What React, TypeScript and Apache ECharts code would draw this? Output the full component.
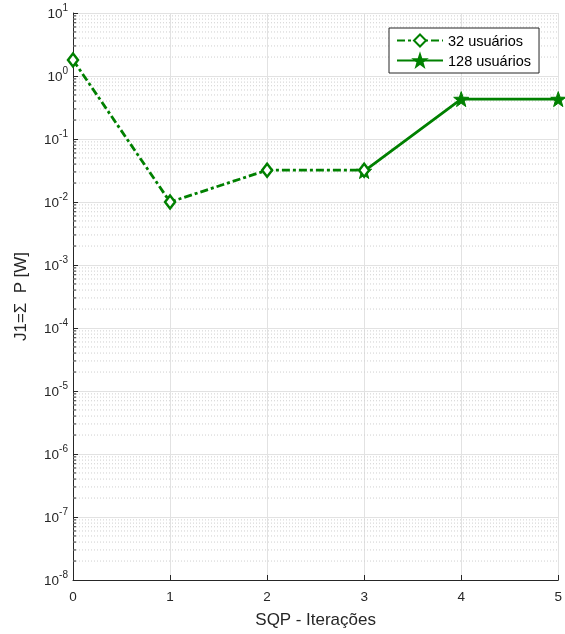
import React, { useEffect, useRef } from "react";
import * as echarts from "echarts";

const iterations = [0, 1, 2, 3, 4, 5];
const users32: (number | null)[] = [1.8, 0.01, 0.032, 0.032, null, null];
const users128: (number | null)[] = [null, null, null, 0.031, 0.43, 0.43];
const seriesNames = ["32 usuários", "128 usuários"];
const yMinExp = -8;
const yMaxExp = 1;
const minorMultipliers = [2, 3, 4, 5, 6, 7, 8, 9];

const FONT = "'Liberation Sans', Arial, sans-serif";
const GREEN = "#008000";
const AXIS = "#262626";

function starPath(): string {
  const pts: string[] = [];
  for (let i = 0; i < 10; i++) {
    const r = i % 2 === 0 ? 10 : 4;
    const a = -Math.PI / 2 + (i * Math.PI) / 5;
    pts.push(`${(10 + r * Math.cos(a)).toFixed(3)} ${(10 + r * Math.sin(a)).toFixed(3)}`);
  }
  return "path://M" + pts.join(" L") + " Z";
}

export default function App() {
  const ref = useRef<HTMLDivElement>(null);
  useEffect(() => {
    if (!ref.current) return;
    const chart = echarts.init(ref.current, null, { renderer: "svg" });
    const minorVals: number[][] = [];
    for (let e = yMinExp; e < yMaxExp; e++) {
      for (const m of minorMultipliers) minorVals.push([0, m * Math.pow(10, e)]);
    }
    chart.setOption({
      animation: false,
      textStyle: { fontFamily: FONT },
      grid: { left: 73, right: 6, top: 13, bottom: 54 },
      legend: {
        left: 389,
        top: 28,
        orient: "vertical",
        backgroundColor: "#fff",
        borderColor: AXIS,
        borderWidth: 1,
        borderRadius: 0,
        padding: [5, 8, 5, 7],
        itemWidth: 46,
        itemHeight: 15,
        itemGap: 5,
        textStyle: { fontSize: 14.5, color: "#000", fontFamily: FONT },
        data: seriesNames,
      },
      xAxis: {
        type: "value",
        min: 0,
        max: 5,
        interval: 1,
        name: "SQP - Iterações",
        nameLocation: "middle",
        nameGap: 31,
        nameTextStyle: { fontSize: 17, color: AXIS, fontFamily: FONT },
        axisLine: { lineStyle: { color: AXIS, width: 1 } },
        axisTick: { inside: true, length: 5, lineStyle: { color: AXIS } },
        axisLabel: { fontSize: 13.5, color: AXIS, margin: 9, fontFamily: FONT },
        splitLine: { show: true, lineStyle: { color: "#e2e2e2", width: 1 } },
      },
      yAxis: {
        type: "log",
        logBase: 10,
        min: Math.pow(10, yMinExp),
        max: Math.pow(10, yMaxExp),
        interval: 1,
        splitNumber: 9,
        name: "J1=Σ  P [W]",
        nameLocation: "middle",
        nameGap: 44,
        nameTextStyle: { fontSize: 17, color: AXIS, fontFamily: FONT },
        axisLine: { show: true, lineStyle: { color: AXIS, width: 1 } },
        axisTick: { inside: true, length: 5, lineStyle: { color: AXIS } },
        axisLabel: {
          margin: 5,
          fontSize: 13.5,
          color: AXIS,
          formatter: (v: number) => `{b|10}{s|${Math.round(Math.log10(v))}}`,
          rich: {
            b: { fontSize: 13.5, color: AXIS, lineHeight: 22, verticalAlign: "middle", fontFamily: FONT },
            s: { fontSize: 10, color: AXIS, lineHeight: 12, verticalAlign: "top", fontFamily: FONT },
          },
        },
        splitLine: { show: true, lineStyle: { color: "#e2e2e2", width: 1 } },
      },
      series: [
        {
          type: "custom",
          silent: true,
          z: 1,
          data: minorVals,
          encode: { x: 0, y: 1 },
          renderItem: (params: any, api: any) => {
            const cs = params.coordSys;
            const y = api.coord([0, api.value(1)])[1];
            return {
              type: "group",
              children: [
                {
                  type: "line",
                  shape: { x1: cs.x, y1: y, x2: cs.x + cs.width, y2: y },
                  style: { stroke: "#cfcfcf", lineWidth: 1, lineDash: [1, 2] },
                },
                {
                  type: "line",
                  shape: { x1: cs.x, y1: y, x2: cs.x + 3, y2: y },
                  style: { stroke: AXIS, lineWidth: 1 },
                },
              ],
            };
          },
        },
        {
          name: seriesNames[0],
          type: "line",
          z: 3,
          data: iterations.map((x, i) => [x, users32[i]]),
          connectNulls: false,
          symbol: "diamond",
          symbolSize: [10, 13],
          showAllSymbol: true,
          itemStyle: { color: "#fff", borderColor: GREEN, borderWidth: 2.5 },
          lineStyle: { color: GREEN, width: 2.8, type: [8, 3, 3, 3] },
        },
        {
          name: seriesNames[1],
          type: "line",
          z: 2,
          data: iterations.map((x, i) => [x, users128[i]]),
          symbol: starPath(),
          symbolSize: 15,
          showAllSymbol: true,
          itemStyle: { color: GREEN, borderColor: GREEN, borderWidth: 1 },
          lineStyle: { color: GREEN, width: 2.8, type: "solid" },
        },
      ],
    });
    return () => chart.dispose();
  }, []);
  return (
    <div
      ref={ref}
      style={{ position: "fixed", left: 0, top: 0, width: 565, height: 634 }}
    />
  );
}
